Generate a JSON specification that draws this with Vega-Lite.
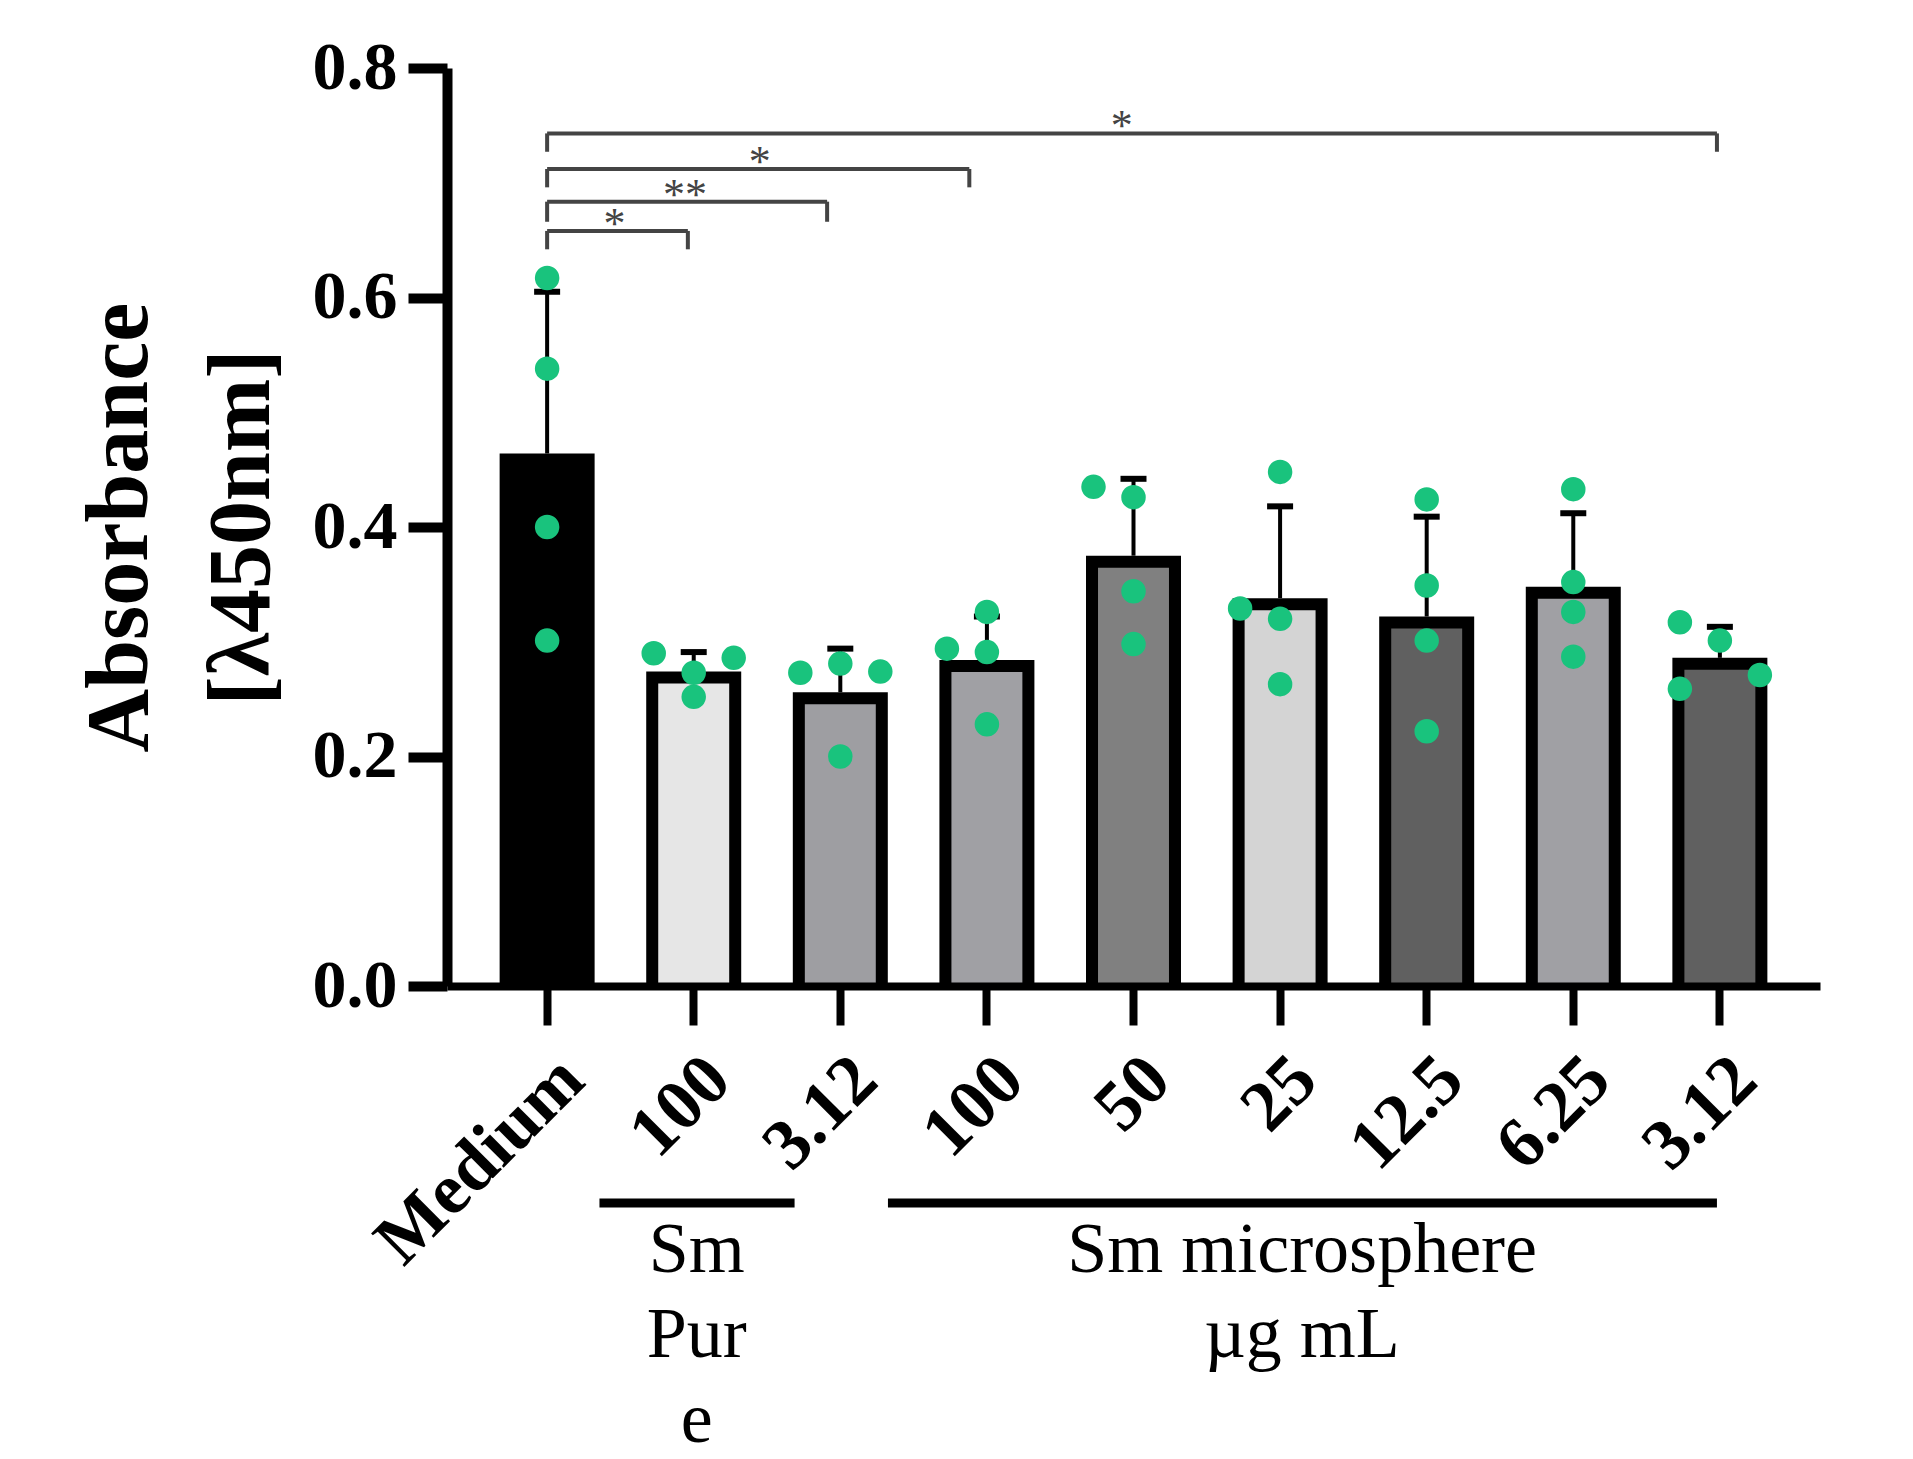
{
  "$schema": "https://vega.github.io/schema/vega-lite/v6.json",
  "width": 1373,
  "height": 918,
  "autosize": {"type": "none"},
  "padding": {"left": 447, "top": 68, "right": 93, "bottom": 473},
  "background": "white",
  "config": {"view": {"stroke": null}, "font": "Liberation Serif"},
  "datasets": {
    "bars": [
      {"group": "Medium", "mean": 0.464, "upper": 0.605},
      {"group": "Pure 100", "mean": 0.274, "upper": 0.291},
      {"group": "Pure 3.12", "mean": 0.256, "upper": 0.294},
      {"group": "Micro 100", "mean": 0.284, "upper": 0.322},
      {"group": "Micro 50", "mean": 0.375, "upper": 0.442},
      {"group": "Micro 25", "mean": 0.338, "upper": 0.418},
      {"group": "Micro 12.5", "mean": 0.322, "upper": 0.409},
      {"group": "Micro 6.25", "mean": 0.348, "upper": 0.412},
      {"group": "Micro 3.12", "mean": 0.286, "upper": 0.313}
    ],
    "points": [
      {"group": "Medium", "lane": "C", "value": 0.617},
      {"group": "Medium", "lane": "C", "value": 0.538},
      {"group": "Medium", "lane": "C", "value": 0.400},
      {"group": "Medium", "lane": "C", "value": 0.301},
      {"group": "Pure 100", "lane": "L", "value": 0.290},
      {"group": "Pure 100", "lane": "C", "value": 0.273},
      {"group": "Pure 100", "lane": "C", "value": 0.252},
      {"group": "Pure 100", "lane": "R", "value": 0.286},
      {"group": "Pure 3.12", "lane": "L", "value": 0.273},
      {"group": "Pure 3.12", "lane": "C", "value": 0.281},
      {"group": "Pure 3.12", "lane": "R", "value": 0.274},
      {"group": "Pure 3.12", "lane": "C", "value": 0.200},
      {"group": "Micro 100", "lane": "L", "value": 0.294},
      {"group": "Micro 100", "lane": "C", "value": 0.326},
      {"group": "Micro 100", "lane": "C", "value": 0.291},
      {"group": "Micro 100", "lane": "C", "value": 0.228},
      {"group": "Micro 50", "lane": "L", "value": 0.435},
      {"group": "Micro 50", "lane": "C", "value": 0.426},
      {"group": "Micro 50", "lane": "C", "value": 0.344},
      {"group": "Micro 50", "lane": "C", "value": 0.298},
      {"group": "Micro 25", "lane": "L", "value": 0.329},
      {"group": "Micro 25", "lane": "C", "value": 0.448},
      {"group": "Micro 25", "lane": "C", "value": 0.320},
      {"group": "Micro 25", "lane": "C", "value": 0.263},
      {"group": "Micro 12.5", "lane": "C", "value": 0.424},
      {"group": "Micro 12.5", "lane": "C", "value": 0.349},
      {"group": "Micro 12.5", "lane": "C", "value": 0.301},
      {"group": "Micro 12.5", "lane": "C", "value": 0.222},
      {"group": "Micro 6.25", "lane": "C", "value": 0.433},
      {"group": "Micro 6.25", "lane": "C", "value": 0.352},
      {"group": "Micro 6.25", "lane": "C", "value": 0.326},
      {"group": "Micro 6.25", "lane": "C", "value": 0.287},
      {"group": "Micro 3.12", "lane": "L", "value": 0.317},
      {"group": "Micro 3.12", "lane": "C", "value": 0.301},
      {"group": "Micro 3.12", "lane": "R", "value": 0.271},
      {"group": "Micro 3.12", "lane": "L", "value": 0.259}
    ],
    "brackets": [
      {"from": 0, "to": 0.96, "mid": 0.46, "level": 0.658, "low": 0.642, "stars": "*"},
      {"from": 0, "to": 1.91, "mid": 0.94, "level": 0.6835, "low": 0.666, "stars": "**"},
      {"from": 0, "to": 2.88, "mid": 1.45, "level": 0.712, "low": 0.696, "stars": "*"},
      {"from": 0, "to": 7.98, "mid": 3.92, "level": 0.743, "low": 0.727, "stars": "*"}
    ],
    "groups": [
      {"start": 0.357, "end": 1.688, "mid": 1.02, "line": -0.189, "textY": -0.249, "label": "Sm\nPur\ne"},
      {"start": 2.325, "end": 7.98, "mid": 5.15, "line": -0.189, "textY": -0.249, "label": "Sm microsphere\nµg mL"}
    ]
  },
  "layer": [
    {
      "encoding": {
        "x": {
          "field": "group",
          "type": "nominal",
          "sort": ["Medium", "Pure 100", "Pure 3.12", "Micro 100", "Micro 50", "Micro 25", "Micro 12.5", "Micro 6.25", "Micro 3.12"],
          "scale": {"paddingInner": 0.352, "paddingOuter": 0.359},
          "axis": {
            "title": null,
            "labelExpr": "indexof(datum.label, ' ') > 0 ? substring(datum.label, indexof(datum.label, ' ') + 1) : datum.label",
            "labelAngle": -45,
            "labelFont": "Liberation Serif",
            "labelFontWeight": "bold",
            "labelFontSize": 72,
            "labelColor": "black",
            "labelPadding": 18,
            "labelLimit": 0,
            "labelOverlap": false,
            "tickSize": 39,
            "tickWidth": 8,
            "tickColor": "black",
            "domainColor": "black",
            "domainWidth": 8,
            "zindex": 1
          }
        }
      },
      "layer": [
        {
          "data": {"name": "bars"},
          "mark": {"type": "bar", "color": "black", "clip": true},
          "encoding": {
            "y": {
              "field": "mean",
              "type": "quantitative",
              "title": ["Absorbance", "[λ450nm]"],
              "scale": {"domain": [0, 0.8], "nice": false, "zero": true},
              "axis": {
                "values": [0, 0.2, 0.4, 0.6, 0.8],
                "format": ".1f",
                "grid": false,
                "labelFont": "Liberation Serif",
                "labelFontWeight": "bold",
                "labelFontSize": 68,
                "labelColor": "black",
                "labelPadding": 11,
                "tickSize": 39,
                "tickWidth": 10,
                "tickColor": "black",
                "domainColor": "black",
                "domainWidth": 10,
                "titleFont": "Liberation Serif",
                "titleFontWeight": "bold",
                "titleFontSize": 88,
                "titleColor": "black",
                "titleLineHeight": 122,
                "titlePadding": 26,
                "zindex": 1
              }
            }
          }
        },
        {
          "data": {"name": "bars"},
          "mark": {"type": "bar", "width": {"band": 0.747}, "yOffset": 12, "clip": true},
          "encoding": {
            "y": {"field": "mean", "type": "quantitative", "title": ["Absorbance", "[λ450nm]"]},
            "fill": {
              "field": "group",
              "type": "nominal",
              "scale": {
                "domain": ["Medium", "Pure 100", "Pure 3.12", "Micro 100", "Micro 50", "Micro 25", "Micro 12.5", "Micro 6.25", "Micro 3.12"],
                "range": ["#000000", "#e6e6e6", "#9e9ea2", "#a0a0a4", "#808080", "#d4d4d4", "#606060", "#a0a0a4", "#606060"]
              },
              "legend": null
            }
          }
        },
        {
          "data": {"name": "bars"},
          "mark": {"type": "rule", "color": "black", "strokeWidth": 4},
          "encoding": {
            "y": {"field": "mean", "type": "quantitative", "title": ["Absorbance", "[λ450nm]"]},
            "y2": {"field": "upper"}
          }
        },
        {
          "data": {"name": "bars"},
          "mark": {"type": "tick", "orient": "horizontal", "color": "black", "size": 26, "thickness": 6, "opacity": 1},
          "encoding": {
            "y": {"field": "upper", "type": "quantitative", "title": ["Absorbance", "[λ450nm]"]}
          }
        },
        {
          "data": {"name": "points"},
          "transform": [{"filter": "datum.lane == 'C'"}],
          "mark": {"type": "circle", "size": 600, "color": "#19c37d", "opacity": 1},
          "encoding": {
            "y": {"field": "value", "type": "quantitative", "title": ["Absorbance", "[λ450nm]"]}
          }
        },
        {
          "data": {"name": "points"},
          "transform": [{"filter": "datum.lane == 'L'"}],
          "mark": {"type": "circle", "size": 600, "color": "#19c37d", "opacity": 1},
          "encoding": {
            "x": {"field": "group", "type": "nominal", "bandPosition": 0.079, "sort": ["Medium", "Pure 100", "Pure 3.12", "Micro 100", "Micro 50", "Micro 25", "Micro 12.5", "Micro 6.25", "Micro 3.12"]},
            "y": {"field": "value", "type": "quantitative", "title": ["Absorbance", "[λ450nm]"]}
          }
        },
        {
          "data": {"name": "points"},
          "transform": [{"filter": "datum.lane == 'R'"}],
          "mark": {"type": "circle", "size": 600, "color": "#19c37d", "opacity": 1},
          "encoding": {
            "x": {"field": "group", "type": "nominal", "bandPosition": 0.921, "sort": ["Medium", "Pure 100", "Pure 3.12", "Micro 100", "Micro 50", "Micro 25", "Micro 12.5", "Micro 6.25", "Micro 3.12"]},
            "y": {"field": "value", "type": "quantitative", "title": ["Absorbance", "[λ450nm]"]}
          }
        }
      ]
    },
    {
      "layer": [
        {
          "data": {"name": "brackets"},
          "mark": {"type": "rule", "color": "#444444", "strokeWidth": 4},
          "encoding": {
            "x": {"field": "from", "type": "quantitative", "scale": {"type": "linear", "domain": [-0.683, 8.683], "nice": false, "zero": false}, "axis": null},
            "x2": {"field": "to"},
            "y": {"field": "level", "type": "quantitative", "scale": {"domain": [0, 0.8], "nice": false}, "axis": null}
          }
        },
        {
          "data": {"name": "brackets"},
          "mark": {"type": "rule", "color": "#444444", "strokeWidth": 4},
          "encoding": {
            "x": {"field": "from", "type": "quantitative", "scale": {"type": "linear", "domain": [-0.683, 8.683], "nice": false, "zero": false}, "axis": null},
            "y": {"field": "level", "type": "quantitative", "scale": {"domain": [0, 0.8], "nice": false}, "axis": null},
            "y2": {"field": "low"}
          }
        },
        {
          "data": {"name": "brackets"},
          "mark": {"type": "rule", "color": "#444444", "strokeWidth": 4},
          "encoding": {
            "x": {"field": "to", "type": "quantitative", "scale": {"type": "linear", "domain": [-0.683, 8.683], "nice": false, "zero": false}, "axis": null},
            "y": {"field": "level", "type": "quantitative", "scale": {"domain": [0, 0.8], "nice": false}, "axis": null},
            "y2": {"field": "low"}
          }
        },
        {
          "data": {"name": "brackets"},
          "mark": {"type": "text", "font": "Liberation Serif", "fontSize": 44, "color": "#444444", "align": "center", "baseline": "alphabetic", "dy": 7},
          "encoding": {
            "x": {"field": "mid", "type": "quantitative", "scale": {"type": "linear", "domain": [-0.683, 8.683], "nice": false, "zero": false}, "axis": null},
            "y": {"field": "level", "type": "quantitative", "scale": {"domain": [0, 0.8], "nice": false}, "axis": null},
            "text": {"field": "stars"}
          }
        },
        {
          "data": {"name": "groups"},
          "mark": {"type": "rule", "color": "black", "strokeWidth": 9},
          "encoding": {
            "x": {"field": "start", "type": "quantitative", "scale": {"type": "linear", "domain": [-0.683, 8.683], "nice": false, "zero": false}, "axis": null},
            "x2": {"field": "end"},
            "y": {"field": "line", "type": "quantitative", "scale": {"domain": [0, 0.8], "nice": false}, "axis": null}
          }
        },
        {
          "data": {"name": "groups"},
          "mark": {"type": "text", "font": "Liberation Serif", "fontSize": 72, "color": "black", "align": "center", "baseline": "alphabetic", "lineBreak": "\n", "lineHeight": 85},
          "encoding": {
            "x": {"field": "mid", "type": "quantitative", "scale": {"type": "linear", "domain": [-0.683, 8.683], "nice": false, "zero": false}, "axis": null},
            "y": {"field": "textY", "type": "quantitative", "scale": {"domain": [0, 0.8], "nice": false}, "axis": null},
            "text": {"field": "label"}
          }
        }
      ]
    }
  ],
  "resolve": {"scale": {"x": "independent"}, "axis": {"x": "independent", "y": "independent"}}
}
